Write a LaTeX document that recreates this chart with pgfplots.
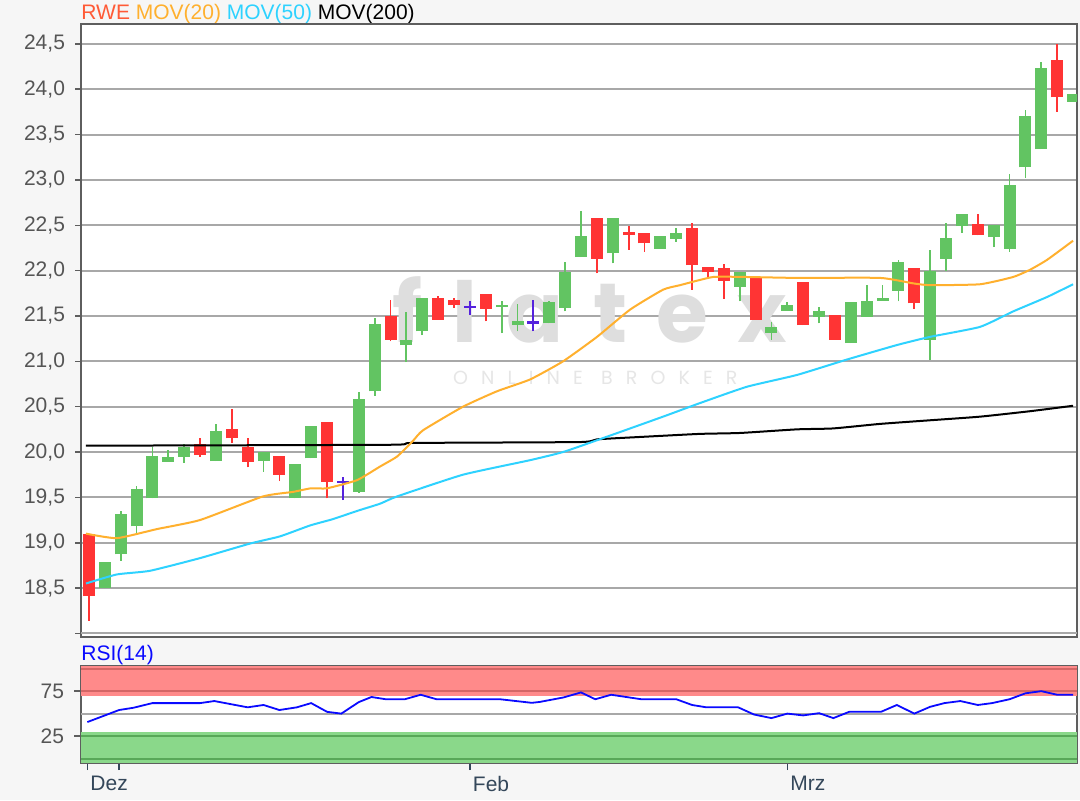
\documentclass[border=0pt]{standalone}
\usepackage{pgfplots}
\pgfplotsset{compat=1.18}
\usepackage{pgfplotstable}
\usepackage{fontspec}
\setmainfont{Liberation Sans}
\newfontfamily\wmfont[LetterSpace=35]{Poppins}
\newfontfamily\wmsmall[LetterSpace=69]{Poppins}

\definecolor{bggray}{HTML}{F6F6F6}
\definecolor{gridgray}{HTML}{A8A8A8}
\definecolor{framegray}{HTML}{5E5E5E}
\definecolor{ticktext}{HTML}{555555}
\definecolor{xtext}{HTML}{34475A}
\definecolor{upgreen}{HTML}{62C462}
\definecolor{downred}{HTML}{FF3434}
\definecolor{dojipurple}{HTML}{5522DD}
\definecolor{rwe}{HTML}{FF5A36}
\definecolor{mov20}{HTML}{FFB02E}
\definecolor{mov50}{HTML}{2ED2FF}
\definecolor{rsiblue}{HTML}{0A0AFF}
\definecolor{bandred}{HTML}{FF8A8A}
\definecolor{bandredline}{HTML}{D46666}
\definecolor{bandgreen}{HTML}{8AD88A}
\definecolor{bandgreenline}{HTML}{58A858}
\definecolor{wmgray}{HTML}{DEDEDE}
\definecolor{wmlight}{HTML}{E6E6E6}

% candles: index, open, close, high, low
\pgfplotstableread{
x o c h l
1 18.50 18.79 18.79 18.50
2 18.87 19.32 19.35 18.80
3 19.18 19.59 19.63 19.11
4 19.49 19.96 20.05 19.49
5 19.89 19.94 20.02 19.89
6 19.95 20.05 20.09 19.88
8 19.90 20.23 20.31 19.90
11 19.90 20.00 20.00 19.78
13 19.49 19.87 19.87 19.49
14 19.93 20.29 20.29 19.93
17 19.56 20.59 20.66 19.55
18 20.67 21.41 21.48 20.62
20 21.18 21.24 21.54 20.99
21 21.33 21.70 21.70 21.29
26 21.60 21.62 21.67 21.31
27 21.40 21.45 21.63 21.33
29 21.42 21.65 21.67 21.42
30 21.59 21.99 22.09 21.55
31 22.15 22.38 22.66 22.15
33 22.19 22.58 22.58 22.08
36 22.24 22.38 22.38 22.24
37 22.35 22.41 22.47 22.32
41 21.82 21.99 21.99 21.66
43 21.31 21.38 21.43 21.24
44 21.56 21.62 21.65 21.56
46 21.49 21.56 21.60 21.42
48 21.20 21.65 21.65 21.20
49 21.49 21.67 21.84 21.49
50 21.67 21.70 21.84 21.67
51 21.78 22.10 22.12 21.66
53 21.24 22.00 22.23 21.02
54 22.13 22.36 22.53 22.00
55 22.49 22.62 22.62 22.42
57 22.37 22.50 22.50 22.26
58 22.24 22.95 23.07 22.21
59 23.14 23.71 23.77 23.02
60 23.34 24.23 24.30 23.34
62 23.86 23.95 23.95 23.86
}\upcandles

\pgfplotstableread{
x o c h l
0 19.10 18.41 19.10 18.14
7 20.09 19.97 20.16 19.95
9 20.25 20.15 20.47 20.10
10 20.05 19.89 20.16 19.83
12 19.96 19.75 19.96 19.68
15 20.33 19.67 20.33 19.49
19 21.50 21.24 21.68 21.22
22 21.70 21.46 21.72 21.46
23 21.68 21.62 21.70 21.59
25 21.74 21.58 21.74 21.44
32 22.58 22.13 22.58 21.97
34 22.43 22.39 22.49 22.23
35 22.42 22.30 22.42 22.21
38 22.47 22.06 22.53 21.79
39 22.04 21.98 22.04 21.93
40 22.03 21.89 22.07 21.69
42 21.93 21.46 21.93 21.46
45 21.87 21.40 21.87 21.40
47 21.51 21.24 21.51 21.24
52 22.03 21.64 22.03 21.58
56 22.51 22.39 22.62 22.39
61 24.32 23.91 24.50 23.75
}\downcandles

\pgfplotstableread{
x o c h l
16 19.67 19.67 19.72 19.47
24 21.60 21.60 21.67 21.51
28 21.43 21.43 21.68 21.33
}\dojis

\pgfplotstableread{
x y
-0.19 19.10
1.76 19.05
4.28 19.15
7.0 19.25
10.96 19.51
12.85 19.56
13.99 19.60
15.0 19.60
16.89 19.69
18.34 19.84
19.41 19.95
20.4 20.12
21.05 20.24
23.57 20.50
25.71 20.67
27.79 20.80
29.87 21.00
32.01 21.27
34.09 21.57
36.17 21.79
37.24 21.84
39.32 21.93
41.46 21.93
44.61 21.92
49.84 21.92
51.92 21.86
52.99 21.84
56.14 21.85
58.22 21.93
59.29 22.01
60.37 22.12
62.0 22.33
}\movtwenty

\pgfplotstableread{
x y
-0.19 18.55
1.76 18.65
3.84 18.69
7.0 18.83
10.14 18.99
12.04 19.07
13.93 19.19
15.37 19.26
16.89 19.35
18.34 19.43
19.41 19.51
23.57 19.75
27.79 19.91
29.87 20.00
32.01 20.13
36.17 20.39
38.5 20.54
41.46 20.72
44.61 20.85
47.76 21.02
50.91 21.18
52.99 21.27
56.14 21.38
58.22 21.55
60.37 21.71
62.0 21.85
}\movfifty

\pgfplotstableread{
x y
-0.19 20.07
18.97 20.08
20.4 20.10
30.94 20.11
32.01 20.14
35.16 20.17
38.5 20.20
41.02 20.21
44.61 20.25
46.88 20.26
49.84 20.31
52.99 20.35
56.14 20.39
59.29 20.45
62.0 20.51
}\movtwohundred

\pgfplotstableread{
x y
-0.1 40.6
1.9 54
2.8 56.5
4 61.7
7 61.7
7.9 64
10 57
11 59.6
12 54
13.1 57
14 61.7
15 52
15.9 50
17 62.8
17.8 68.5
18.7 66
19.9 66
20.9 71
21.9 66
25.9 66
27.9 62
28.4 63
29.9 68
31 73.6
31.9 66
32.9 71
34.8 66
37 66
38 59.6
38.9 57
40.9 57
41.9 49
43 45
44 50
45 48
46 50.5
46.9 45
47.9 52
49.9 52
50.9 59.6
52 50
53 57.6
53.9 61.7
54.9 64
56 59.6
56.9 61.7
58 66
59 72.6
60 75
61 71
62 71
}\rsi

\pgfplotsset{
  candle wick/.style={draw=none, mark=none, forget plot,
    error bars/.cd, y dir=plus, y explicit, error mark=none,
    error bar style={draw=#1, line width=0.9pt, line cap=butt}},
  candle body/.style={draw=none, mark=none, forget plot,
    error bars/.cd, y dir=plus, y explicit, error mark=none,
    error bar style={draw=#1, line width=6pt, line cap=butt}},
  chartframe/.style={
    scale only axis, width=498pt,
    xmin=-0.5, xmax=62.25,
    axis line style={framegray, line width=1pt},
    axis background/.style={fill=white},
    tick align=outside, major tick length=3pt,
    tick style={framegray, line width=0.8pt},
    xtick pos=left, ytick pos=left,
    ymajorgrids, grid style={gridgray, line width=1pt},
    /pgf/number format/assume math mode=true,
    yticklabel style={font=\fontsize{10.5}{12}\selectfont, text=ticktext, xshift=-1.5pt},
  },
}

\begin{document}
\begin{tikzpicture}
\useasboundingbox (0,0) rectangle (540pt,400pt);
\fill[bggray] (0,0) rectangle (540pt,400pt);

\node[anchor=west, inner sep=0, font=\fontsize{10.5}{12}\selectfont] at (40.5pt,393pt)
  {\textcolor{rwe}{RWE} \textcolor{mov20}{MOV(20)} \textcolor{mov50}{MOV(50)} \textcolor{black}{MOV(200)}};
\node[anchor=west, inner sep=0, font=\fontsize{10.5}{12}\selectfont, text=rsiblue] at (40.5pt,72.5pt) {RSI(14)};

\begin{axis}[
  chartframe,
  at={(40.5pt,81.5pt)}, anchor=south west,
  height=306.5pt,
  ymin=17.96, ymax=24.72,
  xtick=\empty,
  ytick={18.5,19,19.5,20,20.5,21,21.5,22,22.5,23,23.5,24,24.5},
  extra y ticks={18}, extra y tick labels={},
  extra y tick style={grid=major},
  yticklabel style={/pgf/number format/.cd, fixed, fixed zerofill, precision=1, use comma},
]
% watermark
\node[text=wmgray, inner sep=0, anchor=base, font=\wmfont\bfseries\fontsize{42}{42}\selectfont] at (axis cs:31.57,21.21) {flatex};
\node[text=wmlight, inner sep=0, anchor=base, font=\wmsmall\fontsize{9.5}{11}\selectfont] at (axis cs:31.9,20.74) {ONLINE BROKER};

\addplot[candle wick=upgreen] table[x=x, y=l, y error expr=\thisrow{h}-\thisrow{l}] {\upcandles};
\addplot[candle wick=downred] table[x=x, y=l, y error expr=\thisrow{h}-\thisrow{l}] {\downcandles};
\addplot[candle wick=dojipurple] table[x=x, y=l, y error expr=\thisrow{h}-\thisrow{l}] {\dojis};
\addplot[candle body=upgreen] table[x=x, y expr={min(\thisrow{o},\thisrow{c})}, y error expr={abs(\thisrow{c}-\thisrow{o})}] {\upcandles};
\addplot[candle body=downred] table[x=x, y expr={min(\thisrow{o},\thisrow{c})}, y error expr={abs(\thisrow{c}-\thisrow{o})}] {\downcandles};
\addplot[draw=none, mark=none, forget plot,
  error bars/.cd, x dir=both, x fixed=0.38, error mark=none,
  error bar style={draw=dojipurple, line width=1.2pt}] table[x=x, y=o] {\dojis};

\addplot[black, line width=1pt, smooth, tension=0.3] table {\movtwohundred};
\addplot[mov50, line width=1pt, smooth, tension=0.3] table {\movfifty};
\addplot[mov20, line width=1pt, smooth, tension=0.3] table {\movtwenty};
\end{axis}

\begin{axis}[
  chartframe,
  at={(40.5pt,18.5pt)}, anchor=south west,
  height=48.5pt,
  ymin=-5, ymax=103,
  ytick={25,75}, ymajorgrids=false,
  xtick={-0.1,1.9,24,44}, xticklabels={Dez,,Feb,Mrz},
  xtick style={xtext, line width=0.8pt}, major tick length=3.5pt,
  xticklabel style={font=\fontsize{10.5}{12}\selectfont, text=xtext, anchor=north west, xshift=-2pt, yshift=0.5pt},
]
\addplot[fill=bandred, draw=none, forget plot] coordinates {(-0.5,70) (-0.5,103) (62.25,103) (62.25,70)} -- cycle;
\addplot[fill=bandgreen, draw=none, forget plot] coordinates {(-0.5,-5) (-0.5,30) (62.25,30) (62.25,-5)} -- cycle;
\addplot[bandredline, line width=1pt, forget plot] coordinates {(-0.5,100) (62.25,100)};
\addplot[bandredline, line width=1pt, forget plot] coordinates {(-0.5,75) (62.25,75)};
\addplot[gridgray, line width=1pt, forget plot] coordinates {(-0.5,50) (62.25,50)};
\addplot[bandgreenline, line width=1pt, forget plot] coordinates {(-0.5,25) (62.25,25)};
\addplot[bandgreenline, line width=1pt, forget plot] coordinates {(-0.5,0) (62.25,0)};
\addplot[rsiblue, line width=0.9pt] table {\rsi};
\end{axis}
\end{tikzpicture}
\end{document}
